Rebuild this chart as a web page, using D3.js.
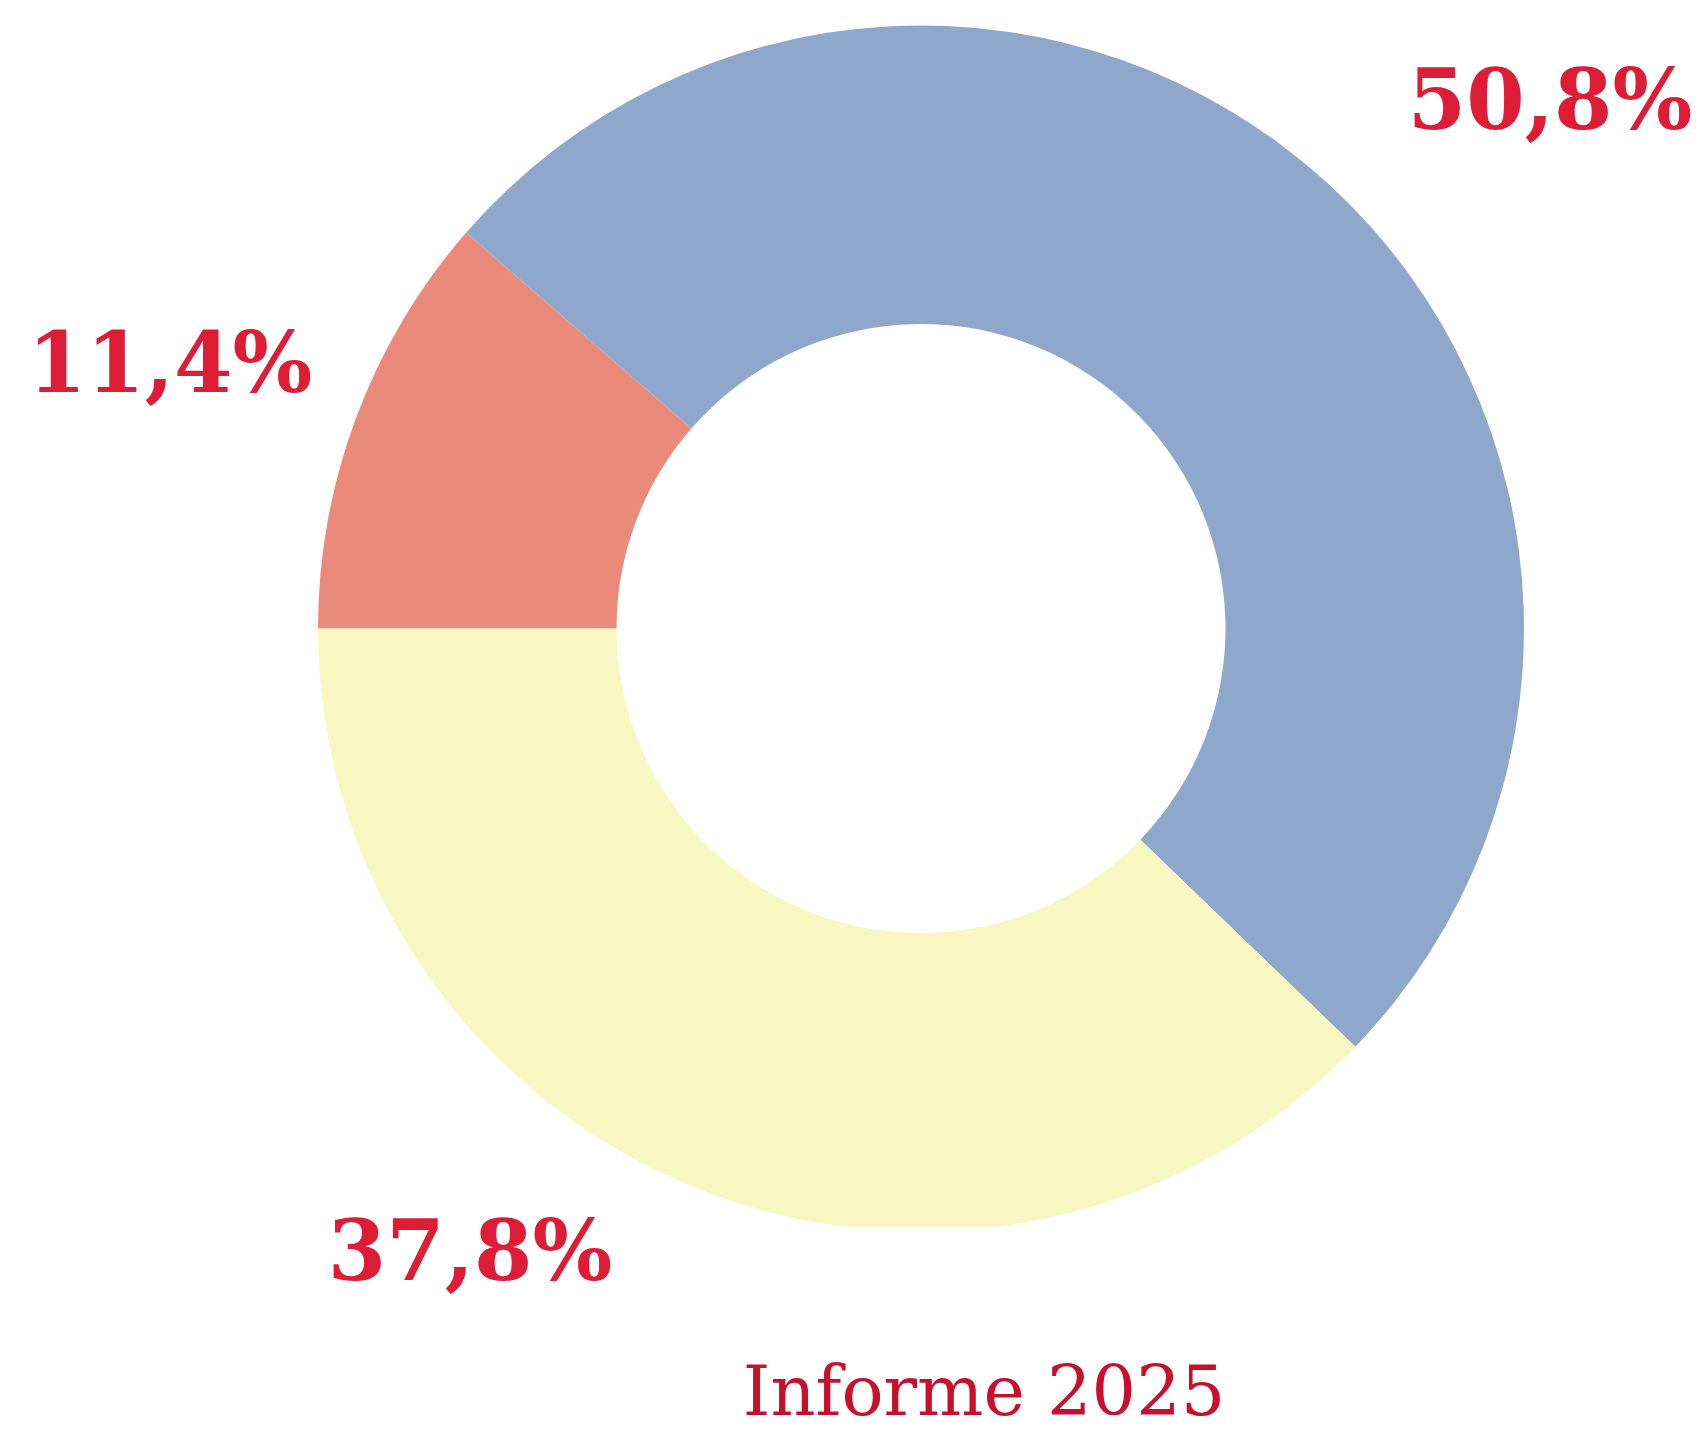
<!DOCTYPE html>
<html lang='es'>

<head>
   <meta charset='UTF-8'>
   <title>Informe 2025 - donut</title>
   <script src='https://d3js.org/d3.v7.min.js'></script>
   <style>
      body {
         margin: 0;
         background: #fff;
      }

      svg {
         display: block;
      }
   </style>
</head>

<body>
   <div id='chart'></div>
   <script>
      // data
      const categories = ['a', 'b', 'c'];
      const values = [11.4, 50.8, 37.8];
      const valueLabels = ['11,4%', '50,8%', '37,8%'];
      const colours = ['#ea8a7a', '#8fa7cb', '#f9f7c1'];
      const title = 'Informe 2025';

      const width = 1707, height = 1434;
      const cx = 921, cy = 628.5;
      const outerR = 603, innerR = 304.5;

      // where each label sits (centre x, baseline y)
      const labelPos = [
         { x: 170, y: 392 },
         { x: 1550, y: 129 },
         { x: 470, y: 1280 }
      ];

      const svg = d3.select('#chart').append('svg')
         .attr('width', width)
         .attr('height', height);

      // the ring is cut flat at the bottom
      svg.append('clipPath').attr('id', 'cut')
         .append('rect')
         .attr('x', 0).attr('y', 0)
         .attr('width', width).attr('height', 1226.7);

      const pie = d3.pie()
         .sort(null)
         .value(d => d)
         .startAngle(-Math.PI / 2)
         .endAngle(Math.PI * 1.5);

      const arc = d3.arc().innerRadius(innerR).outerRadius(outerR);

      const colour = d3.scaleOrdinal().domain(categories).range(colours);

      const g = svg.append('g')
         .attr('clip-path', 'url(#cut)')
         .append('g')
         .attr('transform', `translate(${cx}, ${cy})`);

      g.selectAll('path')
         .data(pie(values))
         .join('path')
         .attr('d', arc)
         .attr('fill', (d, i) => colour(categories[i]));

      svg.selectAll('text.pct')
         .data(valueLabels)
         .join('text')
         .attr('class', 'pct')
         .attr('x', (d, i) => labelPos[i].x)
         .attr('y', (d, i) => labelPos[i].y)
         .attr('text-anchor', 'middle')
         .style('font-family', "Georgia, 'DejaVu Serif', serif")
         .style('font-weight', 'bold')
         .style('font-size', '84px')
         .attr('fill', '#dd1c35')
         .text(d => d);

      svg.append('text')
         .attr('x', 984)
         .attr('y', 1415)
         .attr('text-anchor', 'middle')
         .style('font-family', "Georgia, 'DejaVu Serif', serif")
         .style('font-size', '70px')
         .attr('fill', '#c8102e')
         .text(title);
   </script>
</body>

</html>
